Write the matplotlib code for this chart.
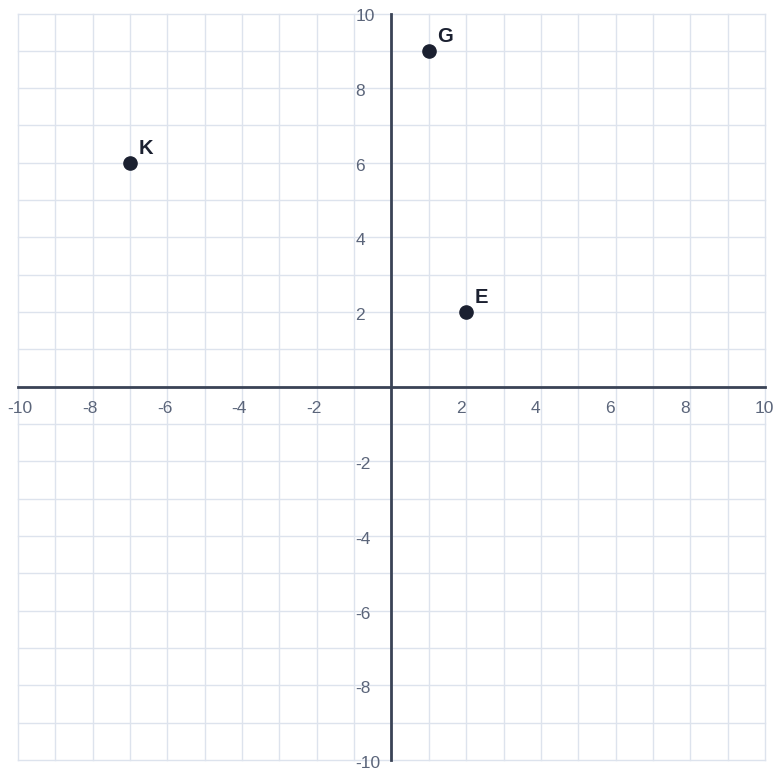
import matplotlib
matplotlib.use("Agg")
import matplotlib.pyplot as plt
import numpy as np

# points on the plane
names = ["K", "G", "E"]
xs = [-7, 1, 2]
ys = [6, 9, 2]

# axis ticks
tick_vals = [-10, -8, -6, -4, -2, 2, 4, 6, 8, 10]

plt.rcParams['font.family'] = ['Liberation Sans', 'DejaVu Sans']

fig = plt.figure(figsize=(7.75, 7.74), dpi=100)
ax = fig.add_axes([0, 0, 1, 1])
ax.set_xlim(-10.482, 10.268)
ax.set_ylim(-10.375, 10.362)
ax.axis('off')

grid_color = '#dde3ed'
axis_color = '#3a4356'
label_color = '#5b657a'

# grid, one line per unit
for v in range(-10, 11):
    ax.plot([v, v], [-10, 10], color=grid_color, lw=1.0, zorder=1)
    ax.plot([-10, 10], [v, v], color=grid_color, lw=1.0, zorder=1)

# main axes through the origin
ax.plot([-10, 10], [0, 0], color=axis_color, lw=2.0, zorder=2)
ax.plot([0, 0], [-10, 10], color=axis_color, lw=2.0, zorder=2)

# tick labels
for v in tick_vals:
    ax.annotate(str(v), (v, 0), textcoords='offset points', xytext=(-7.5, -15.5),
                ha='left', va='center', fontsize=12.5, color=label_color)
    ax.annotate(str(v), (0, v), textcoords='offset points', xytext=(-26, -2.5),
                ha='left', va='center', fontsize=12.5, color=label_color)

# points
ax.plot(xs, ys, 'o', color='#1b2030', markersize=9.5, zorder=3)
for n, x, y in zip(names, xs, ys):
    ax.annotate(n, (x, y), textcoords='offset points', xytext=(6, 10.5),
                ha='left', va='center', fontsize=14.5, fontweight='bold',
                color='#1b2030')

fig.savefig("out.png", dpi=100)
